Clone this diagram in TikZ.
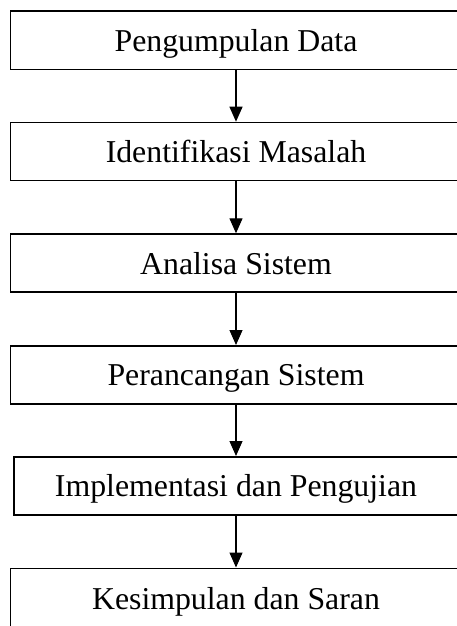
\documentclass[tikz,border=0pt]{standalone}
\usepackage{fontspec}
\setmainfont{Liberation Serif}
\usetikzlibrary{arrows.meta}
\begin{document}
\begin{tikzpicture}[x=1pt,y=-1pt,
  stepbox/.style={draw=black, line width=1.5pt, minimum width=451.4pt, minimum height=58pt,
    inner sep=0pt, font=\fontsize{31.8pt}{36pt}\selectfont, anchor=north,
    text height=27pt, text depth=5pt},
  arr/.style={line width=1.2pt, -{Triangle[width=13pt,length=15pt]}}]
\useasboundingbox (0,0) rectangle (456,626);
\node[stepbox] (b1) at (236,10.5) {Pengumpulan Data};
\node[stepbox] (b2) at (236,121.7) {Identifikasi Masalah};
\node[stepbox] (b3) at (236,233.3) {Analisa Sistem};
\node[stepbox] (b4) at (236,345) {Perancangan Sistem};
\node[stepbox, minimum width=444pt] (b5) at (236,456) {Implementasi dan Pengujian};
\node[stepbox, minimum height=61pt] (b6) at (236,567.5) {Kesimpulan dan Saran};
\draw[arr] (b1) -- (b2);
\draw[arr] (b2) -- (b3);
\draw[arr] (b3) -- (b4);
\draw[arr] (b4) -- (b5);
\draw[arr] (b5) -- (b6);
\end{tikzpicture}
\end{document}
